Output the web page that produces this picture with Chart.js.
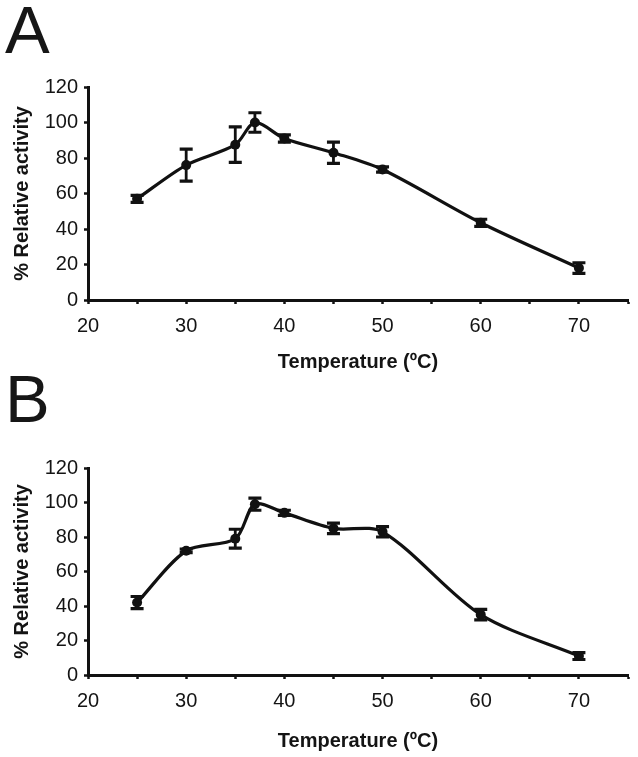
<!DOCTYPE html>
<html>
<head>
<meta charset="utf-8">
<script src="https://cdn.jsdelivr.net/npm/chart.js@4.4.1/dist/chart.umd.min.js"></script>
<style>
  body { margin: 0; background: #fff; width: 638px; height: 757px; position: relative; overflow: hidden; }
  .panel { position: absolute; left: 5px; font-family: "Liberation Sans", Arial, sans-serif; font-size: 67px; line-height: 67px; color: #161616; }
  canvas { position: absolute; left: 0; }
</style>
</head>
<body>
<div class="panel" style="top:-4px">A</div>
<div class="panel" style="top:365px">B</div>
<canvas id="chartA" width="638" height="320" style="top:60px"></canvas>
<canvas id="chartB" width="638" height="317" style="top:440px"></canvas>
<script>
// temperature (ºC) and % relative activity with error bars
const temps = [25, 30, 35, 37, 40, 45, 50, 60, 70];
const activityA = [57, 76, 87.5, 100, 91, 83, 73.5, 43.5, 18];
const errorA = [2, 9, 10, 5.5, 2, 6, 1.5, 2, 3];
const activityB = [42, 72, 79, 99, 94, 85, 83, 35, 11];
const errorB = [3.5, 1, 5.5, 3.5, 1.5, 3, 3, 3, 2];
const yTicks = [0, 20, 40, 60, 80, 100, 120];

const ink = '#111111';
const fontFam = '"Liberation Sans", Arial, sans-serif';

const errBars = {
  id: 'errbars',
  afterDatasetsDraw(chart, args, opts) {
    const meta = chart.getDatasetMeta(0);
    const ys = chart.scales.y;
    const c = chart.ctx;
    c.save();
    c.strokeStyle = ink;
    c.lineCap = 'butt';
    meta.data.forEach((pt, i) => {
      const v = chart.data.datasets[0].data[i].y;
      const e = opts.values[i];
      const top = ys.getPixelForValue(v + e);
      const bot = ys.getPixelForValue(v - e);
      c.lineWidth = 2.8;
      c.beginPath();
      c.moveTo(pt.x, top);
      c.lineTo(pt.x, bot);
      c.stroke();
      c.lineWidth = 3.2;
      c.beginPath();
      c.moveTo(pt.x - 6.5, top); c.lineTo(pt.x + 6.5, top);
      c.moveTo(pt.x - 6.5, bot); c.lineTo(pt.x + 6.5, bot);
      c.stroke();
    });
    c.restore();
  }
};

function makeChart(id, values, errors, top, xh, titlePad) {
  const pts = temps.map((t, i) => ({ x: t, y: values[i] }));
  return new Chart(document.getElementById(id), {
    type: 'line',
    data: {
      datasets: [{
        data: pts,
        borderColor: ink,
        borderWidth: 3.2,
        tension: 0.3,
        pointRadius: 5,
        pointBackgroundColor: ink,
        pointBorderWidth: 0
      }]
    },
    plugins: [errBars],
    options: {
      responsive: false,
      animation: false,
      layout: { padding: { top: top, right: 8, left: 0, bottom: 0 } },
      plugins: {
        legend: { display: false },
        tooltip: { enabled: false },
        errbars: { values: errors }
      },
      scales: {
        x: {
          type: 'linear',
          min: 20,
          max: 75,
          afterFit: (s) => { s.height = xh; },
          border: { color: ink, width: 3 },
          grid: { drawOnChartArea: false, drawTicks: true, tickLength: 4, tickColor: ink, tickWidth: 2.5 },
          ticks: {
            stepSize: 5,
            autoSkip: false,
            maxRotation: 0,
            padding: 10,
            color: '#141414',
            font: { family: fontFam, size: 20 },
            callback: (v) => (v % 10 === 0 ? v : '')
          },
          title: {
            display: true,
            text: 'Temperature (ºC)',
            color: '#141414',
            font: { family: fontFam, size: 20, weight: 'bold' },
            padding: { top: 0, bottom: titlePad }
          }
        },
        y: {
          min: 0,
          max: 120,
          afterFit: (s) => { s.width = 88; },
          afterBuildTicks: (s) => { s.ticks = yTicks.map(v => ({ value: v })); },
          border: { color: ink, width: 3 },
          grid: { drawOnChartArea: false, drawTicks: true, tickLength: 4, tickColor: ink, tickWidth: 2.5 },
          ticks: {
            padding: 6,
            color: '#141414',
            font: { family: fontFam, size: 20 }
          },
          title: {
            display: true,
            text: '% Relative activity',
            color: '#141414',
            font: { family: fontFam, size: 20, weight: 'bold' },
            padding: { top: 10, bottom: 0 }
          }
        }
      }
    }
  });
}

const chartA = makeChart('chartA', activityA, errorA, 27, 80, 6);
const chartB = makeChart('chartB', activityB, errorB, 28, 82, 4);
</script>
</body>
</html>
